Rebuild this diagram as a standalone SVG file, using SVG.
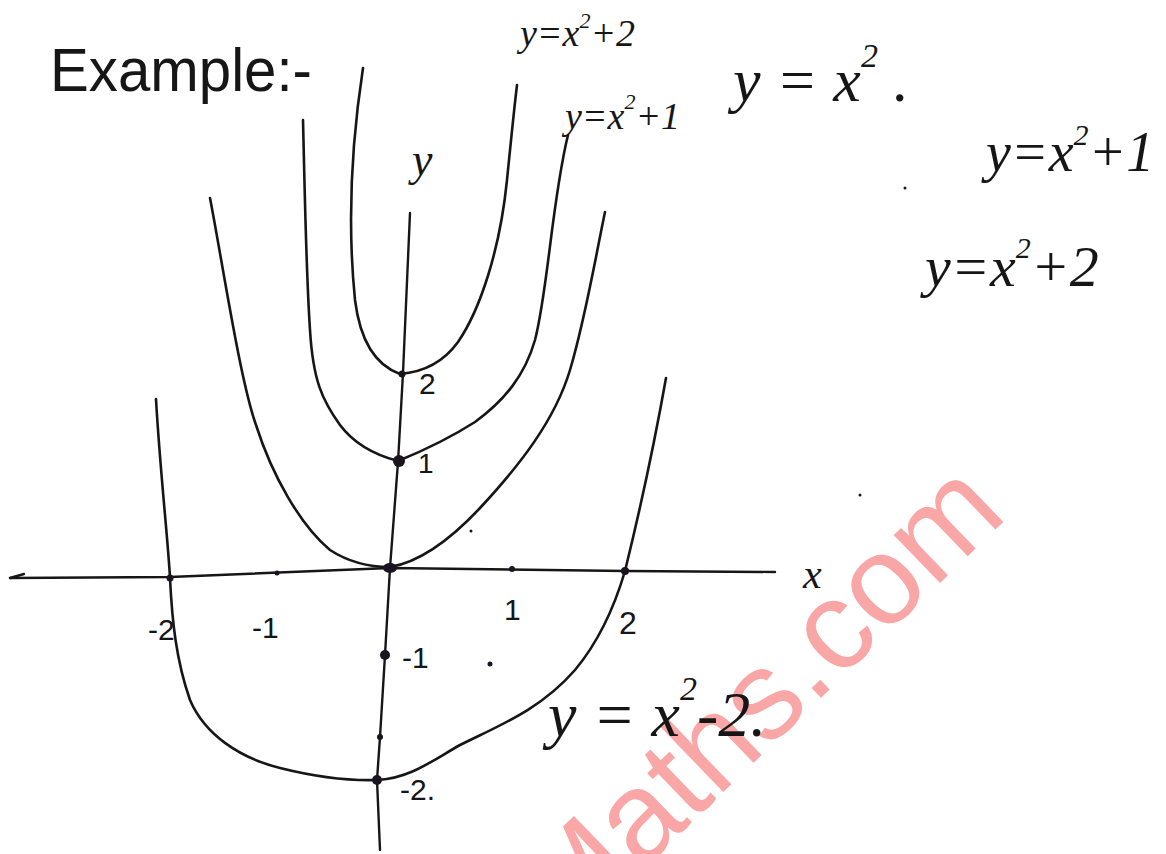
<svg xmlns="http://www.w3.org/2000/svg" width="1166" height="854" viewBox="0 0 1166 854">
<style>
.curve{fill:none;stroke:#161616;stroke-width:2.6;stroke-linecap:round;stroke-linejoin:round}
.axis{fill:none;stroke:#161616;stroke-width:2.4;stroke-linecap:round;stroke-linejoin:round}
.dot{fill:#1a1420}
.hw{font-family:"Liberation Serif","DejaVu Serif",serif;font-style:italic;fill:#161616}
.num{font-family:"Liberation Sans","DejaVu Sans",sans-serif;fill:#161616}
.wm{font-family:"Liberation Sans",Arial,sans-serif;fill:#f9a6a6}
</style>
<rect width="1166" height="854" fill="#ffffff"/>
<text class="wm" x="566" y="944" font-size="126" transform="rotate(-44 566 944)">Maths.com</text>
<text class="num" x="50" y="91" font-size="62" textLength="262" lengthAdjust="spacingAndGlyphs">Example:-</text>
<g id="axes">
<path class="axis" d="M410,213 L403,373 L398,462 L390,568 L385,655 L380,737 L377,780 L380,850"/>
<path class="axis" d="M10,578 L170,577 L390,568 L625,571 L775,572"/>
<path class="axis" d="M24,574 L10,578"/>
</g>
<g id="curves">
<path id="c-minus2" class="curve" d="M156,399 C160,470 168,540 170,578 C172,620 176,660 190,700 C205,735 240,758 280,768 C320,778 350,781 378,780 C410,778 430,762 460,745 C500,725 540,710 575,670 C600,640 615,605 625,571 C640,510 655,440 666,378"/>
<path id="c-0" class="curve" d="M210,198 C222,260 240,380 256,425 C272,475 300,525 330,550 C350,563 370,567 390,567 C420,562 450,540 480,508 C520,465 555,420 570,370 C585,320 595,260 605,212"/>
<path id="c-plus1" class="curve" d="M303,120 C305,200 306,270 310,330 C313,380 322,400 340,425 C355,445 375,455 398,461 C420,452 450,438 475,422 C505,400 525,375 535,340 C548,290 552,200 568,135"/>
<path id="c-plus2" class="curve" d="M363,68 C352,140 347,220 355,300 C360,340 375,365 400,374 C425,372 445,360 458,342 C480,310 500,250 507,180 C511,140 514,110 517,85"/>
</g>
<g id="points">
<circle class="dot" cx="170" cy="578" r="3.5"/>
<circle class="dot" cx="277" cy="573" r="2.5"/>
<ellipse class="dot" cx="390" cy="568" rx="7" ry="5"/>
<circle class="dot" cx="512" cy="569" r="3"/>
<circle class="dot" cx="625" cy="571" r="4"/>
<circle class="dot" cx="399" cy="461" r="6"/>
<circle class="dot" cx="402" cy="374" r="3.5"/>
<circle class="dot" cx="385" cy="655" r="5"/>
<circle class="dot" cx="380" cy="737" r="3"/>
<circle class="dot" cx="377" cy="780" r="5"/>
<circle class="dot" cx="490" cy="664" r="2.5"/>
<circle class="dot" cx="860" cy="495" r="1.5"/>
<circle class="dot" cx="905" cy="188" r="1.5"/>
<circle class="dot" cx="471" cy="531" r="1.5"/>
</g>
<g id="tick-labels">
<text class="num" x="419" y="394" font-size="30">2</text>
<text class="num" x="418" y="473" font-size="28">1</text>
<text class="num" x="402" y="668" font-size="30">-1</text>
<text class="num" x="400" y="800" font-size="30">-2.</text>
<text class="num" x="148" y="640" font-size="30">-2</text>
<text class="num" x="252" y="638" font-size="30">-1</text>
<text class="num" x="504" y="620" font-size="30">1</text>
<text class="num" x="619" y="634" font-size="32">2</text>
<text class="hw" x="803" y="588" font-size="42">x</text>
<text class="hw" x="412" y="175" font-size="46">y</text>
</g>
<g id="equations">
<text class="hw" x="520" y="46" font-size="38">y=x<tspan dy="-18" font-size="22">2</tspan><tspan dy="18">+2</tspan></text>
<text class="hw" x="565" y="129" font-size="38">y=x<tspan dy="-20" font-size="22">2</tspan><tspan dy="20">+1</tspan></text>
<text class="hw" x="733" y="101" font-size="62">y = x<tspan dy="-34" font-size="34">2</tspan><tspan dy="34"> .</tspan></text>
<text class="hw" x="986" y="171" font-size="56">y=x<tspan dy="-26" font-size="30">2</tspan><tspan dy="26">+1</tspan></text>
<text class="hw" x="925" y="286" font-size="58">y=x<tspan dy="-28" font-size="30">2</tspan><tspan dy="28">+2</tspan></text>
<text class="hw" x="548" y="736" font-size="64">y = x<tspan dy="-36" font-size="34">2</tspan><tspan dy="36">-2.</tspan></text>
</g>
</svg>
